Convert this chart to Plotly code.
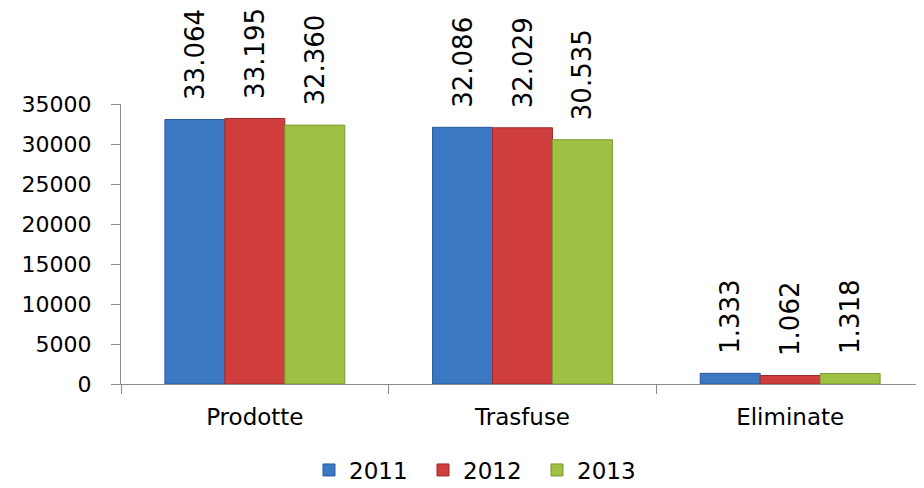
import plotly.graph_objects as go

categories = ["Prodotte", "Trasfuse", "Eliminate"]
years = ["2011", "2012", "2013"]
values_2011 = [33064, 32086, 1333]
values_2012 = [33195, 32029, 1062]
values_2013 = [32360, 30535, 1318]
y_ticks = [0, 5000, 10000, 15000, 20000, 25000, 30000, 35000]

series = [values_2011, values_2012, values_2013]
fills = ["#3b78c4", "#cf3d3d", "#a0c044"]
edges = ["#2b5c9c", "#9e2c2c", "#7d9733"]

FONT = "Verdana, DejaVu Sans, sans-serif"

fig = go.Figure()
for name, vals, fc, ec in zip(years, series, fills, edges):
    fig.add_trace(go.Bar(
        name=name, x=categories, y=vals,
        marker=dict(color=fc, line=dict(color=ec, width=1)),
        texttemplate="\u00a0\u00a0%{y:,}",
        textposition="outside",
        textangle=-90,
        constraintext="none",
        cliponaxis=False,
        textfont=dict(family=FONT, size=26, color="#000000"),
    ))

# the page body adds an 8px offset, so the figure is sized to fit the window
fig.update_layout(
    width=916, height=480,
    separators=",.",
    barmode="group",
    bargap=0.328,
    bargroupgap=0,
    plot_bgcolor="white",
    paper_bgcolor="white",
    margin=dict(l=113, r=0, t=96, b=104),
    font=dict(family=FONT, size=22, color="#000000"),
    showlegend=True,
    legend=dict(
        orientation="h",
        xref="container", x=0.3286, xanchor="left",
        yref="container", y=0.0375, yanchor="middle",
        font=dict(family=FONT, size=23),
        entrywidth=69, entrywidthmode="pixels",
        itemclick=False,
    ),
)
fig.update_xaxes(
    showline=True, linecolor="#8c8c8c", linewidth=1,
    ticks="outside", tickson="boundaries", ticklen=9, tickcolor="#8c8c8c",
    ticklabelstandoff=12,
    showgrid=False,
    tickfont=dict(family=FONT, size=23),
)
fig.update_yaxes(
    range=[0, 35000], tickvals=y_ticks, tickformat="d",
    showline=True, linecolor="#8c8c8c", linewidth=1,
    ticks="outside", ticklen=9, tickcolor="#8c8c8c",
    ticklabelstandoff=15,
    showgrid=False, zeroline=False,
    tickfont=dict(family=FONT, size=22),
)

fig.write_html("out.html")
